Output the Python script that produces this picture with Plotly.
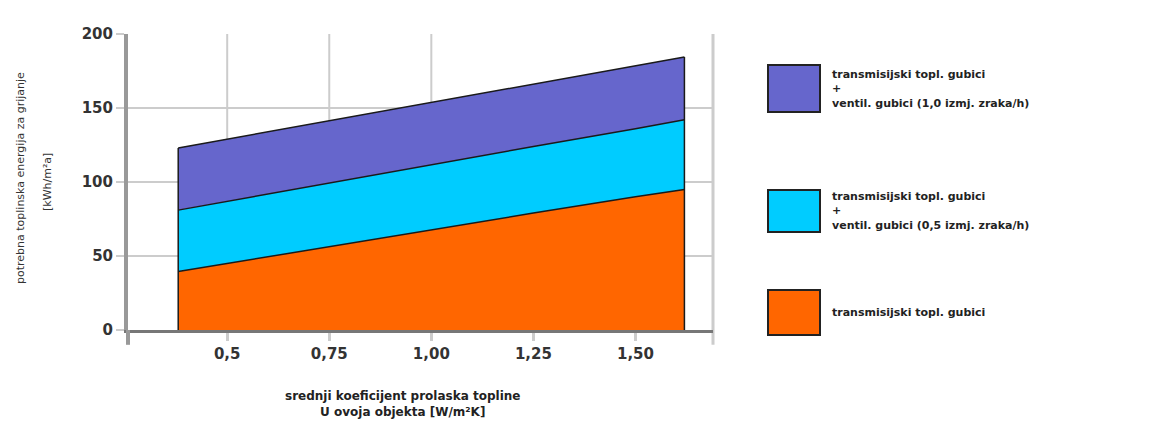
import plotly.graph_objects as go

# Data
u_values = [0.38, 0.5, 0.75, 1.0, 1.25, 1.5, 1.62]
transmission = [39.5, 45, 56, 67.5, 79, 90, 95]          # orange
vent_05 = [41.5, 42, 43, 44, 45, 46, 47]                  # cyan layer
vent_10 = [42, 42, 42, 42.5, 42, 42.5, 42.5]              # purple layer

x_tick_vals = [0.5, 0.75, 1.0, 1.25, 1.5]
x_tick_text = ["0,5", "0,75", "1,00", "1,25", "1,50"]
y_tick_vals = [0, 50, 100, 150, 200]
y_tick_text = ["0", "50", "100", "150", "200"]

series_names = [
    "transmisijski topl. gubici",
    "transmisijski topl. gubici<br>+<br>ventil. gubici (0,5 izmj. zraka/h)",
    "transmisijski topl. gubici<br>+<br>ventil. gubici (1,0 izmj. zraka/h)",
]
colors = ["#FF6600", "#00CCFF", "#6666CC"]

OFF = 8  # page body margin
FIG_W, FIG_H = 1171 - 2 * OFF, 432 - 2 * OFF

fig = go.Figure()
layers = [transmission, vent_05, vent_10]
for vals, name, col in zip(layers, series_names, colors):
    fig.add_trace(go.Scatter(
        x=u_values, y=vals, name=name, mode="lines",
        stackgroup="one", fillcolor=col,
        line=dict(color="#1a1a1a", width=1.5),
        showlegend=False,
    ))

total = [a + b + c for a, b, c in zip(transmission, vent_05, vent_10)]
for xi, ti in ((u_values[0], total[0]), (u_values[-1], total[-1])):
    fig.add_trace(go.Scatter(x=[xi, xi], y=[0, ti], mode="lines",
                             line=dict(color="#1a1a1a", width=1.5),
                             showlegend=False, hoverinfo="skip"))

tick_font = dict(family="DejaVu Sans", size=15, color="#333333")

fig.update_xaxes(
    range=[0.257, 1.69], tickvals=x_tick_vals,
    ticktext=["<b>%s</b>" % t for t in x_tick_text],
    showgrid=False, zeroline=False, showline=True, linecolor="#777777", linewidth=3,
    ticks="outside", ticklen=8, tickwidth=3, tickcolor="#cccccc",
    tickfont=tick_font,
)
fig.update_yaxes(
    range=[0, 200], tickvals=y_tick_vals,
    ticktext=["<b>%s</b>" % t for t in y_tick_text],
    showgrid=True, gridcolor="#cccccc", gridwidth=2, zeroline=False,
    showline=True, linecolor="#999999", linewidth=4,
    ticks="outside", ticklen=8, tickwidth=2, tickcolor="#cccccc",
    tickfont=tick_font,
)

# plot area in screenshot px
L, W = 128, 585
T, H = 34, 296

def px_x(p):
    return (p - L) / W

def px_y(p):
    return (T + H - p) / H

shapes = []
for xv in [0.5, 0.75, 1.0]:
    shapes.append(dict(type="line", xref="x", yref="paper", x0=xv, x1=xv, y0=0, y1=1,
                       line=dict(color="#cccccc", width=2), layer="below"))
shapes.append(dict(type="line", xref="paper", yref="paper", x0=1, x1=1, y0=-0.05, y1=1,
                   line=dict(color="#cccccc", width=3), layer="below"))
shapes.append(dict(type="line", xref="paper", yref="paper", x0=0, x1=0, y0=-0.05, y1=0,
                   line=dict(color="#999999", width=4)))

legend_boxes = [(65, 112), (190, 232), (290, 335)]
legend_order = [2, 1, 0]
annotations = []
for (y0, y1), idx in zip(legend_boxes, legend_order):
    shapes.append(dict(type="rect", xref="paper", yref="paper",
                       x0=px_x(768), x1=px_x(820), y0=px_y(y1), y1=px_y(y0),
                       fillcolor=colors[idx], line=dict(color="#222222", width=2)))
    annotations.append(dict(xref="paper", yref="paper", x=px_x(830), y=px_y((y0 + y1) / 2),
                            text="<b>" + series_names[idx] + "</b>", showarrow=False,
                            xanchor="left", yanchor="middle", align="left",
                            font=dict(family="DejaVu Sans", size=11, color="#222222")))

annotations.append(dict(xref="paper", yref="paper", x=px_x(402), y=px_y(404),
                        text="<b>srednji koeficijent prolaska topline</b><br><b>U ovoja objekta [W/m²K]</b>",
                        showarrow=False, xanchor="center", yanchor="middle",
                        font=dict(family="DejaVu Sans", size=12, color="#222222")))
annotations.append(dict(xref="paper", yref="paper", x=px_x(20), y=px_y(178),
                        text="potrebna toplinska energija za grijanje",
                        textangle=-90, showarrow=False, xanchor="center", yanchor="middle",
                        font=dict(family="DejaVu Sans", size=11, color="#333333")))
annotations.append(dict(xref="paper", yref="paper", x=px_x(47), y=px_y(182),
                        text="[kWh/m²a]",
                        textangle=-90, showarrow=False, xanchor="center", yanchor="middle",
                        font=dict(family="DejaVu Sans", size=11, color="#333333")))

fig.update_layout(
    width=FIG_W, height=FIG_H,
    margin=dict(l=L - OFF, r=FIG_W - (L - OFF) - W, t=T - OFF, b=FIG_H - (T - OFF) - H),
    plot_bgcolor="white", paper_bgcolor="white",
    shapes=shapes, annotations=annotations,
    showlegend=False,
)

fig.write_html("out.html")
